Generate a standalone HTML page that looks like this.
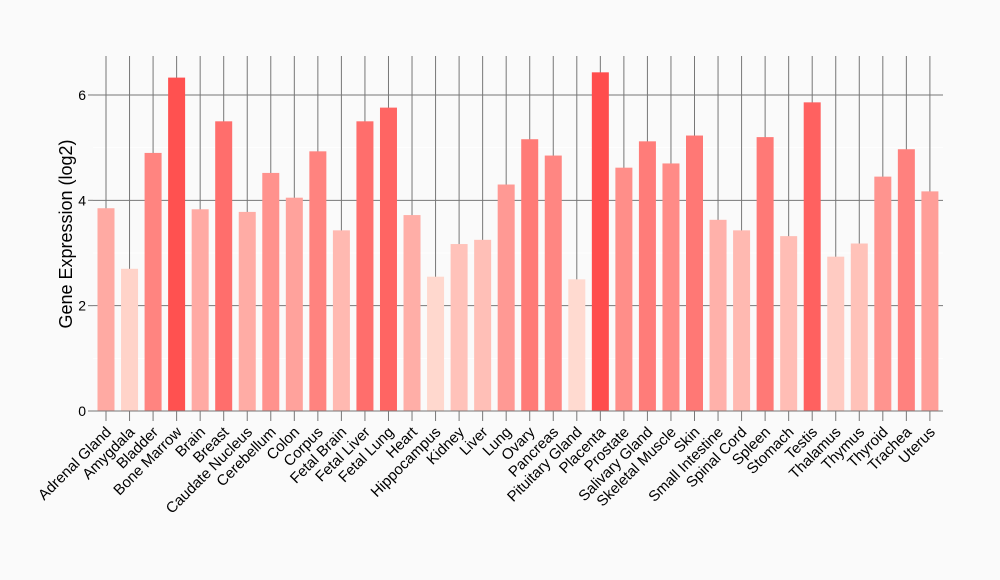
<!DOCTYPE html>
<html><head><meta charset="utf-8"><style>body{margin:0;background:#fafafa}svg{display:block}text{font-family:"Liberation Sans",sans-serif}</style></head>
<body><svg id="s" width="1000" height="580" viewBox="0 0 1000 580"></svg>
<script>
const names=["Adrenal Gland","Amygdala","Bladder","Bone Marrow","Brain","Breast","Caudate Nucleus","Cerebellum","Colon","Corpus","Fetal Brain","Fetal Liver","Fetal Lung","Heart","Hippocampus","Kidney","Liver","Lung","Ovary","Pancreas","Pituitary Gland","Placenta","Prostate","Salivary Gland","Skeletal Muscle","Skin","Small Intestine","Spinal Cord","Spleen","Stomach","Testis","Thalamus","Thymus","Thyroid","Trachea","Uterus"];
const v=[3.85,2.7,4.9,6.33,3.83,5.5,3.78,4.52,4.05,4.93,3.43,5.5,5.76,3.72,2.55,3.17,3.25,4.3,5.16,4.85,2.5,6.43,4.62,5.12,4.7,5.23,3.63,3.43,5.2,3.32,5.86,2.93,3.18,4.45,4.97,4.17];
const y0=411,k=52.67,x0=106,dx=23.54;
let h='<rect width="1000" height="580" fill="#fafafa"/>';
[1,3,5].forEach(t=>h+=`<line x1="93" x2="943" y1="${y0-t*k}" y2="${y0-t*k}" stroke="#fff" stroke-width="1"/>`);
[2,4,6].forEach(t=>h+=`<line x1="93" x2="943" y1="${y0-t*k}" y2="${y0-t*k}" stroke="#777" stroke-width="1"/>`);
names.forEach((n,i)=>{const x=x0+i*dx;h+=`<line x1="${x}" x2="${x}" y1="56" y2="421" stroke="#777" stroke-width="1"/>`;});
names.forEach((n,i)=>{const x=x0+i*dx;const f=Math.max(0,Math.min(1,(v[i]-2.5)/3.93));
const g=Math.round(218-f*(218-77)),b=Math.round(208-f*(208-77));
h+=`<rect x="${x-8.5}" y="${y0-v[i]*k}" width="17" height="${v[i]*k}" fill="rgb(255,${g},${b})"/>`;
h+=`<text transform="translate(${x+6},433) rotate(-45)" text-anchor="end" font-size="15" fill="#000">${n}</text>`;});
h+=`<line x1="93" x2="943" y1="${y0}" y2="${y0}" stroke="#777"/>`;
[0,2,4,6].forEach(t=>{h+=`<line x1="88" x2="93" y1="${y0-t*k}" y2="${y0-t*k}" stroke="#777"/><text x="86" y="${y0-t*k+5}" text-anchor="end" font-size="14">${t}</text>`;});
h+=`<text transform="translate(72,234) rotate(-90)" text-anchor="middle" font-size="18">Gene Expression (log2)</text>`;
document.getElementById('s').innerHTML=h;
</script></body></html>
